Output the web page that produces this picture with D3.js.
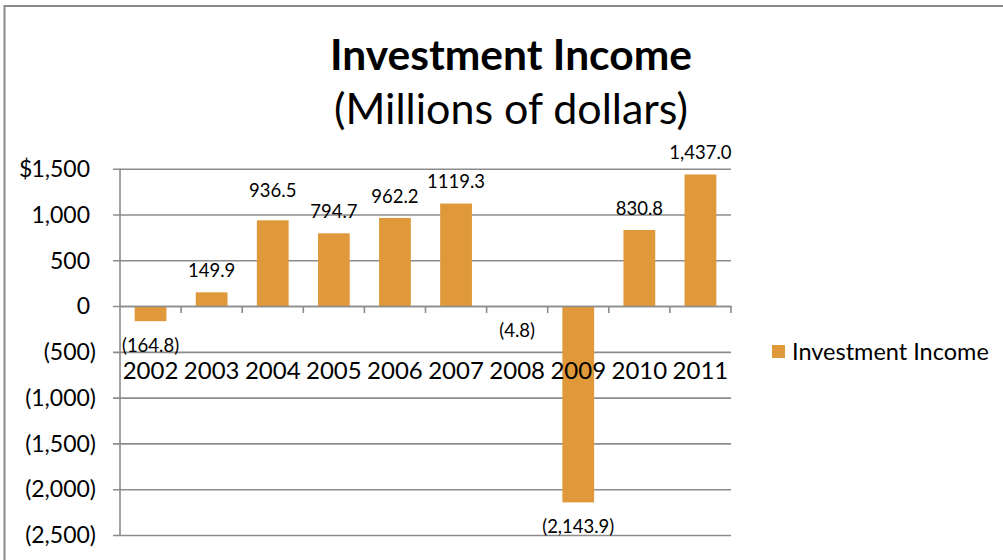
<!DOCTYPE html>
<html>
<head>
<meta charset="utf-8">
<script src="https://cdn.jsdelivr.net/npm/d3@7/dist/d3.min.js"></script>
<style>
  html, body { margin: 0; padding: 0; background: #fff; }
  svg { display: block; }
  text { font-family: Lato, "Open Sans", sans-serif; fill: #000; }
</style>
</head>
<body>
<svg id="chart" width="1003" height="560"></svg>
<script>
// Investment income by year, millions of dollars
const years = ["2002", "2003", "2004", "2005", "2006", "2007", "2008", "2009", "2010", "2011"];
const income = [-164.8, 149.9, 936.5, 794.7, 962.2, 1119.3, -4.8, -2143.9, 830.8, 1437.0];
const valueLabels = ["(164.8)", "149.9", "936.5", "794.7", "962.2", "1119.3", "(4.8)", "(2,143.9)", "830.8", "1,437.0"];
const yTicks = [1500, 1000, 500, 0, -500, -1000, -1500, -2000, -2500];
const yTickLabels = ["1,500", "1,000", "500", "0", "(500)", "(1,000)", "(1,500)", "(2,000)", "(2,500)"];
const seriesName = "Investment Income";

const barColor = "#E0993A";
const gridColor = "#8C8C8C";

const svg = d3.select("#chart");

// outer chart frame
svg.append("rect")
  .attr("x", 4.5).attr("y", 6)
  .attr("width", 1020).attr("height", 580)
  .attr("fill", "none").attr("stroke", "#8A8A8A").attr("stroke-width", 2);

// titles
svg.append("text")
  .attr("x", 511).attr("y", 70)
  .attr("text-anchor", "middle")
  .attr("font-size", 42.5).attr("font-weight", "bold")
  .text("Investment Income");
svg.append("text")
  .attr("x", 511).attr("y", 124)
  .attr("text-anchor", "middle")
  .attr("font-size", 43)
  .text("(Millions of dollars)");

const plot = { left: 120, right: 731, top: 168.7, bottom: 535 };

const x = d3.scaleBand()
  .domain(years)
  .range([plot.left, plot.right])
  .padding(0);

const y = d3.scaleLinear()
  .domain([-2500, 1500])
  .range([plot.bottom, plot.top]);

const barW = x.bandwidth() * 0.52;

// horizontal gridlines with outward ticks
const yAxis = d3.axisLeft(y)
  .tickValues(yTicks)
  .tickSize(-(plot.right - plot.left))
  .tickSizeOuter(0)
  .tickFormat("");
const gy = svg.append("g")
  .attr("transform", `translate(${plot.left},0)`)
  .call(yAxis);
gy.select(".domain").remove();
gy.selectAll(".tick line")
  .attr("x1", -7)
  .attr("stroke", gridColor).attr("stroke-width", 1.6);

// vertical axis line
svg.append("line")
  .attr("x1", plot.left).attr("x2", plot.left)
  .attr("y1", y(1500)).attr("y2", y(-2500))
  .attr("stroke", gridColor).attr("stroke-width", 1.6);

// y tick labels (accounting style: negatives extend past the number column)
const yl = svg.append("g");
yTicks.forEach((v, i) => {
  yl.append("text")
    .attr("x", v < 0 ? 96 : 90)
    .attr("y", y(v))
    .attr("dy", "0.36em")
    .attr("text-anchor", "end")
    .attr("font-size", 23)
    .text(yTickLabels[i]);
});
yl.append("text")
  .attr("x", 19).attr("y", y(1500)).attr("dy", "0.36em")
  .attr("font-size", 23)
  .text("$");

// bars
svg.append("g").selectAll("rect")
  .data(years)
  .join("rect")
  .attr("x", (d) => x(d) + (x.bandwidth() - barW) / 2)
  .attr("width", barW)
  .attr("y", (d, i) => y(Math.max(0, income[i])))
  .attr("height", (d, i) => Math.abs(y(income[i]) - y(0)))
  .attr("fill", barColor);

// category axis at zero with downward ticks between categories
const xAxis = d3.axisBottom(x)
  .tickSize(0)
  .tickSizeOuter(0)
  .tickFormat("");
const gx = svg.append("g")
  .attr("transform", `translate(0,${y(0)})`)
  .call(xAxis);
gx.select(".domain").attr("stroke", gridColor).attr("stroke-width", 1.6);
gx.selectAll(".tick").remove();
const bounds = years.map((d) => x(d)).concat([plot.right]).slice(1);
gx.selectAll(".sep")
  .data(bounds)
  .join("line")
  .attr("x1", (d) => d).attr("x2", (d) => d)
  .attr("y1", 0).attr("y2", 7)
  .attr("stroke", gridColor).attr("stroke-width", 1.6);

// category labels
svg.append("g").selectAll("text")
  .data(years)
  .join("text")
  .attr("x", (d) => x(d) + x.bandwidth() / 2)
  .attr("y", 370)
  .attr("dy", "0.36em")
  .attr("text-anchor", "middle")
  .attr("font-size", 24)
  .text((d) => d);

// value labels above positive bars, below negative bars
const labelLift = { "2004": 8 };
svg.append("g").selectAll("text")
  .data(years)
  .join("text")
  .attr("x", (d) => x(d) + x.bandwidth() / 2)
  .attr("y", (d, i) => income[i] >= 0
      ? y(income[i]) - 22 - (labelLift[d] || 0)
      : y(income[i]) + 24)
  .attr("dy", "0.36em")
  .attr("text-anchor", "middle")
  .attr("font-size", 18.5)
  .text((d, i) => valueLabels[i]);

// legend
const lg = svg.append("g");
lg.append("rect")
  .attr("x", 772).attr("y", 345)
  .attr("width", 13).attr("height", 13)
  .attr("fill", barColor);
lg.append("text")
  .attr("x", 792).attr("y", 352)
  .attr("dy", "0.36em")
  .attr("font-size", 23.5)
  .text(seriesName);
</script>
</body>
</html>
